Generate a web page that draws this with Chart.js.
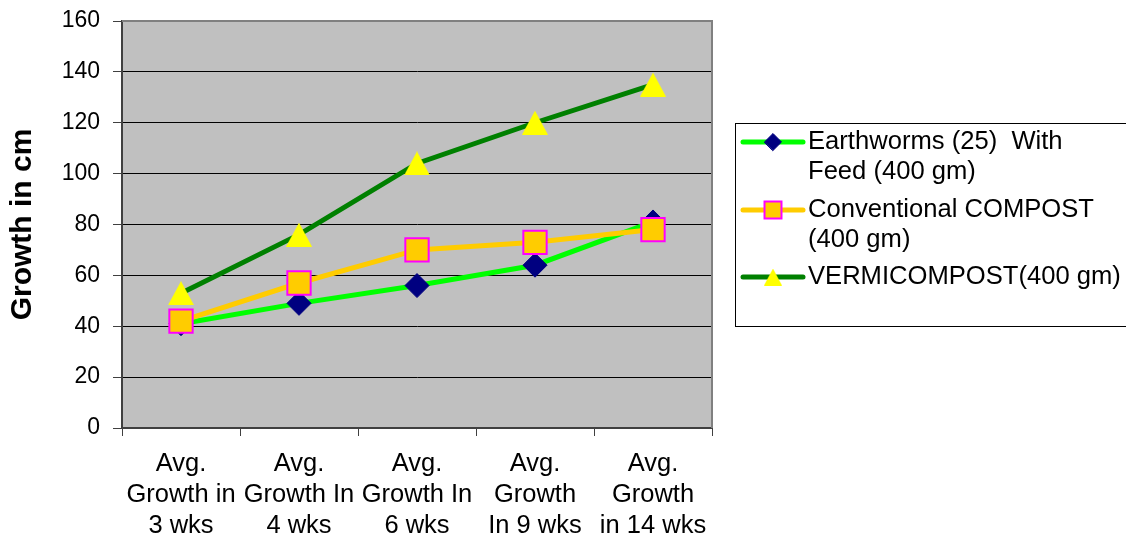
<!DOCTYPE html>
<html>
<head>
<meta charset="utf-8">
<title>Growth in cm</title>
<script src="https://cdn.jsdelivr.net/npm/chart.js@4/dist/chart.umd.min.js"></script>
<style>
  html, body { margin: 0; padding: 0; background: #ffffff; }
  #wrap { width: 1126px; height: 535px; }
</style>
</head>
<body>
<div id="wrap"><canvas id="chart" width="1126" height="535"></canvas></div>
<script>
// Categories (multi-line tick labels)
const categories = [
  ["Avg.", "Growth in", "3 wks"],
  ["Avg.", "Growth In", "4 wks"],
  ["Avg.", "Growth In", "6 wks"],
  ["Avg.", "Growth", "In 9 wks"],
  ["Avg.", "Growth", "in 14 wks"]
];

// Series values (cm)
const earthworms   = [41, 49, 56, 64, 81];
const conventional = [42, 57, 70, 73, 78];
const vermicompost = [53, 76, 104, 120, 135];

// Series names, and how they wrap in the legend
const seriesNames = [
  "Earthworms (25)  With Feed (400 gm)",
  "Conventional COMPOST (400 gm)",
  "VERMICOMPOST(400 gm)"
];
const legendLines = [
  ["Earthworms (25)  With", "Feed (400 gm)"],
  ["Conventional COMPOST", "(400 gm)"],
  ["VERMICOMPOST(400 gm)"]
];

// Value axis
const yMin = 0, yMax = 160, yStep = 20;
const yTitle = "Growth in cm";

const FONT = '"Liberation Sans", Arial, sans-serif';

// Yellow triangle marker centred on its bounding box
function makeTriangle(w, h) {
  const c = document.createElement('canvas');
  c.width = w; c.height = h;
  const g = c.getContext('2d');
  g.fillStyle = '#FFFF00';
  g.beginPath();
  g.moveTo(w / 2, 0);
  g.lineTo(w, h);
  g.lineTo(0, h);
  g.closePath();
  g.fill();
  return c;
}
const triBig = makeTriangle(26, 24);
const triSmall = makeTriangle(18, 17);

// Grey plot area with its border
const plotBackground = {
  id: 'plotBackground',
  beforeDraw(chart) {
    const { ctx, chartArea: a } = chart;
    ctx.save();
    ctx.fillStyle = '#C0C0C0';
    ctx.fillRect(a.left, a.top, a.right - a.left, a.bottom - a.top);
    ctx.restore();
  },
  beforeDatasetsDraw(chart) {
    const { ctx, chartArea: a } = chart;
    ctx.save();
    ctx.strokeStyle = '#808080';
    ctx.lineWidth = 2;
    ctx.beginPath();
    ctx.moveTo(a.left, a.top);
    ctx.lineTo(a.right, a.top);
    ctx.lineTo(a.right, a.bottom);
    ctx.stroke();
    ctx.restore();
  }
};

// Boxed legend at the right with wrapped labels
const boxedLegend = {
  id: 'boxedLegend',
  afterDraw(chart) {
    const { ctx, chartArea: a } = chart;
    const left = a.right + 23;
    const top = 123;
    const bottom = 326;
    ctx.save();
    ctx.strokeStyle = '#000000';
    ctx.lineWidth = 1;
    ctx.strokeRect(left + 0.5, top + 0.5, 1126 - left + 10, bottom - top);

    const firstRow = [142, 210, 277];
    const lineGap = 30;
    chart.data.datasets.forEach((ds, i) => {
      const y = firstRow[i];
      ctx.strokeStyle = ds.borderColor;
      ctx.lineWidth = 5;
      ctx.lineCap = 'round';
      ctx.beginPath();
      ctx.moveTo(left + 8, y);
      ctx.lineTo(left + 68, y);
      ctx.stroke();

      const mx = left + 38;
      if (ds.pointStyle instanceof HTMLCanvasElement) {
        ctx.drawImage(triSmall, mx - triSmall.width / 2, y - triSmall.height / 2);
      } else {
        ctx.fillStyle = ds.pointBackgroundColor;
        ctx.strokeStyle = ds.pointBorderColor;
        ctx.lineWidth = ds.pointBorderWidth;
        Chart.helpers.drawPoint(ctx, {
          pointStyle: ds.pointStyle,
          radius: ds.pointStyle === 'rect' ? 12 : 8.5,
          rotation: 0,
          borderWidth: ds.pointBorderWidth
        }, mx, y);
      }

      ctx.fillStyle = '#000000';
      ctx.font = '25.6px ' + FONT;
      ctx.textAlign = 'left';
      ctx.textBaseline = 'middle';
      legendLines[i].forEach((t, k) => {
        ctx.fillText(t, left + 73, y + k * lineGap);
      });
    });
    ctx.restore();
  }
};

new Chart(document.getElementById('chart'), {
  type: 'line',
  data: {
    labels: categories,
    datasets: [
      {
        label: seriesNames[0],
        data: earthworms,
        borderColor: '#00FF00',
        borderWidth: 5,
        pointStyle: 'rectRot',
        pointRadius: 12,
        pointBackgroundColor: '#000080',
        pointBorderColor: '#000080',
        pointBorderWidth: 1,
        order: 3
      },
      {
        label: seriesNames[1],
        data: conventional,
        borderColor: '#FFCC00',
        borderWidth: 5,
        pointStyle: 'rect',
        pointRadius: 16.5,
        pointBackgroundColor: '#FFCC00',
        pointBorderColor: '#FF00FF',
        pointBorderWidth: 2,
        order: 2
      },
      {
        label: seriesNames[2],
        data: vermicompost,
        borderColor: '#008000',
        borderWidth: 5,
        pointStyle: triBig,
        pointRadius: 13,
        pointBackgroundColor: '#FFFF00',
        pointBorderColor: '#FFFF00',
        pointBorderWidth: 0,
        order: 1
      }
    ]
  },
  options: {
    responsive: false,
    animation: false,
    devicePixelRatio: 1,
    elements: { line: { tension: 0 } },
    layout: { padding: { top: 21, right: 414, left: 0, bottom: 0 } },
    plugins: {
      legend: { display: false },
      tooltip: { enabled: false }
    },
    scales: {
      x: {
        type: 'category',
        offset: true,
        grid: {
          offset: true,
          drawOnChartArea: false,
          drawTicks: true,
          tickLength: 8,
          tickColor: '#404040',
          tickWidth: 1
        },
        border: { color: '#404040', width: 2 },
        ticks: {
          color: '#000000',
          font: { family: FONT, size: 25.5, lineHeight: 1.2 },
          padding: 13,
          maxRotation: 0,
          autoSkip: false
        },
        afterFit(scale) { scale.height = 107; }
      },
      y: {
        min: yMin,
        max: yMax,
        ticks: {
          stepSize: yStep,
          color: '#000000',
          font: { family: FONT, size: 23 },
          padding: 13
        },
        grid: {
          color: '#000000',
          lineWidth: 1,
          tickLength: 9,
          tickColor: '#404040'
        },
        border: { color: '#404040', width: 2 },
        title: {
          display: true,
          text: yTitle,
          color: '#000000',
          font: { family: FONT, size: 30, weight: 'bold' },
          padding: { top: 5, bottom: 0 }
        },
        afterFit(scale) {
          scale.width = 122;
          scale.paddingTop = 4;
          scale.paddingBottom = 4;
        }
      }
    }
  },
  plugins: [plotBackground, boxedLegend]
});
</script>
</body>
</html>
